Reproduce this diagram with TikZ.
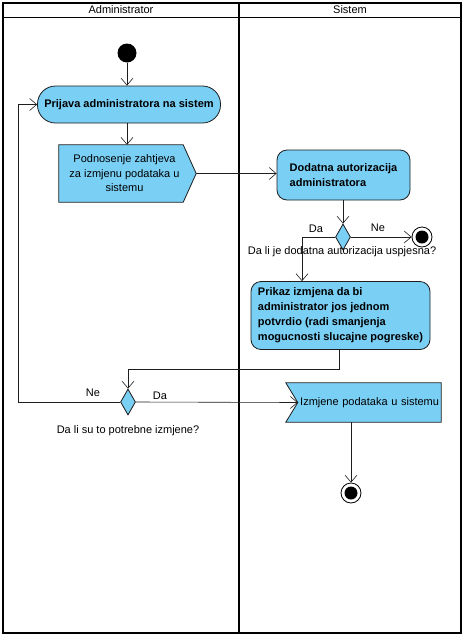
\documentclass[tikz,border=0pt]{standalone}
\usepackage{fontspec}
\setmainfont{Liberation Sans}
\usetikzlibrary{arrows.meta,shapes.geometric}
\pgfdeclarelayer{bg}
\pgfsetlayers{bg,main}
\definecolor{actfill}{RGB}{122,207,245}
\definecolor{linec}{RGB}{30,30,30}
\tikzset{
  act/.style={draw=linec, fill=actfill, line width=0.8pt, font=\bfseries\fontsize{11}{15}\selectfont, align=left, inner sep=0pt},
  sig/.style={draw=none, font=\fontsize{11}{14.5}\selectfont, align=center, inner sep=0pt},
  sigshape/.style={draw=linec, fill=actfill, line width=0.8pt},
  flow/.style={-{Straight Barb[length=7pt,width=12pt]}, line width=0.6pt, draw=linec},
  dec/.style={diamond, draw=linec, fill=actfill, line width=0.8pt, minimum width=15pt, minimum height=26pt, inner sep=0pt},
  startn/.style={circle, fill=black, minimum size=19pt, inner sep=0pt},
  finaln/.style={circle, draw=black, line width=0.8pt, fill=white, minimum size=20pt, inner sep=0pt,
    path picture={\fill[black] (path picture bounding box.center) circle (6.5pt);}},
  lbl/.style={font=\fontsize{11}{13}\selectfont, inner sep=0pt},
  lane/.style={draw=black, line width=1.5pt},
}
\begin{document}
\begin{tikzpicture}[x=1pt,y=-1pt]
\useasboundingbox (0,0) rectangle (464,638);
\begin{pgfonlayer}{bg}
\fill[white] (0,0) rectangle (464,638);
\end{pgfonlayer}
% swimlanes
\draw[lane] (3,3) rectangle (461,633);
\draw[line width=1pt] (3,17) -- (461,17);
\draw[lane] (239,3) -- (239,633);
\node[lbl] (hadm) at (121,10) {Administrator};
\node[lbl] (hsis) at (350,10) {Sistem};
% nodes
\node[startn] (start) at (127,53) {};
\node[act, minimum width=183pt, minimum height=37pt, rounded corners=18pt, align=center] (prijava) at (129,104.5) {Prijava administratora na sistem};
\node[sig, minimum width=137pt, minimum height=57pt] (podn) at (127.5,173.5) {\hspace*{-6pt}Podnosenje zahtjeva\\\hspace*{-6pt}za izmjenu podataka u\\\hspace*{-6pt}sistemu};
\begin{pgfonlayer}{bg}
\draw[sigshape] (podn.north west) -- ([xshift=-13pt]podn.north east) -- (podn.east) -- ([xshift=-13pt]podn.south east) -- (podn.south west) -- cycle;
\end{pgfonlayer}
\node[act, minimum width=133pt, minimum height=50pt, rounded corners=10pt] (dod) at (343.5,175) {Dodatna autorizacija\\administratora};
\node[dec] (d1) at (343,237) {};
\node[finaln] (fin1) at (422,237) {};
\node[act, minimum width=179pt, minimum height=68pt, rounded corners=10pt] (prikaz) at (340.5,315.5) {Prikaz izmjena da bi\\administrator jos jednom\\potvrdio (radi smanjenja\\mogucnosti slucajne pogreske)};
\node[dec] (d2) at (128,402) {};
\node[sig, minimum width=155pt, minimum height=39pt, text width=151pt, align=right] (izm) at (363.5,402.5) {Izmjene podataka u sistemu};
\begin{pgfonlayer}{bg}
\draw[sigshape] (izm.north west) -- (izm.north east) -- (izm.south east) -- (izm.south west) -- ([xshift=12pt]izm.west) -- cycle;
\end{pgfonlayer}
\node[finaln] (fin2) at (351,493) {};
\coordinate (back) at (18,402);
% labels
\node[lbl] (lda1) at (316,229) {Da};
\node[lbl] (lne1) at (378,228) {Ne};
\node[lbl] (lq1) at (342,252) {Da li je dodatna autorizacija uspjesna?};
\node[lbl] (lne2) at (93,393) {Ne};
\node[lbl] (lda2) at (160,396) {Da};
\node[lbl] (lq2) at (128,431) {Da li su to potrebne izmjene?};
% flows
\draw[flow] (start) -- (start |- prijava.north);
\draw[flow] (prijava.south -| start) -- (start |- podn.north);
\draw[flow] (podn.east) -- (podn.east -| dod.west);
\draw[flow] (d1 |- dod.south) -- (d1.north);
\draw[flow] (d1.east) -- (fin1.west);
\draw[flow] (d1.west) -| ([xshift=-38.5pt]prikaz.north);
\draw[flow] ([xshift=-1.5pt]prikaz.south) -- ++(0,19) -| (d2.north);
\draw[flow] (d2.west) -- (back) |- (prijava.west);
\draw[flow] (d2.east) -- ([xshift=12pt]izm.west);
\draw[flow] (fin2 |- izm.south) -- (fin2.north);
\end{tikzpicture}
\end{document}
